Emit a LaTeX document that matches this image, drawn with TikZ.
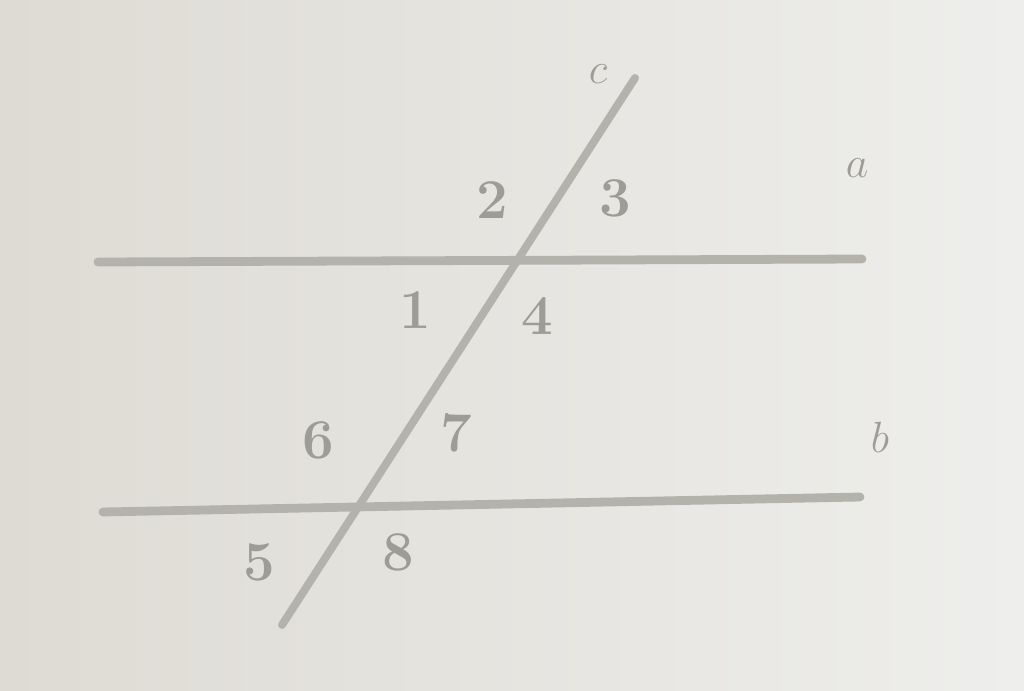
\documentclass[tikz,border=0pt]{standalone}
\begin{document}
\begin{tikzpicture}[x=0.02cm,y=-0.02cm,
  ln/.style={line width=5pt,draw=linegray,line cap=round},
  lab/.style={text=textgray,font=\fontsize{32}{32}\selectfont\bfseries,inner sep=0pt}]
\definecolor{linegray}{RGB}{180,178,172}
\definecolor{textgray}{RGB}{158,156,150}
\definecolor{bgl}{RGB}{222,219,212}
\definecolor{bgr}{RGB}{238,238,236}
\useasboundingbox (0,0) rectangle (1024,690);
\shade[left color=bgl,right color=bgr] (0,0) rectangle (1024,690);
\coordinate (a1) at (98,262);
\coordinate (a2) at (862,259);
\coordinate (b1) at (103,512);
\coordinate (b2) at (860,497);
\coordinate (c1) at (282,625);
\coordinate (c2) at (635,78);
\draw[ln] (a1) -- (a2);
\draw[ln] (b1) -- (b2);
\draw[ln,line width=4.5pt] (c1) -- (c2);
\node[lab] (lc) at (598,74) {$c$};
\node[lab] (la) at (857,168) {$a$};
\node[lab] (lb) at (880,437) {$b$};
\node[lab] (n2) at (492,200) {2};
\node[lab] (n3) at (615,198) {3};
\node[lab] (n1) at (415,310) {1};
\node[lab] (n4) at (537,316) {4};
\node[lab] (n6) at (318,440) {6};
\node[lab] (n7) at (456,433) {7};
\node[lab] (n5) at (259,562) {5};
\node[lab] (n8) at (398,552) {8};
\end{tikzpicture}
\end{document}
